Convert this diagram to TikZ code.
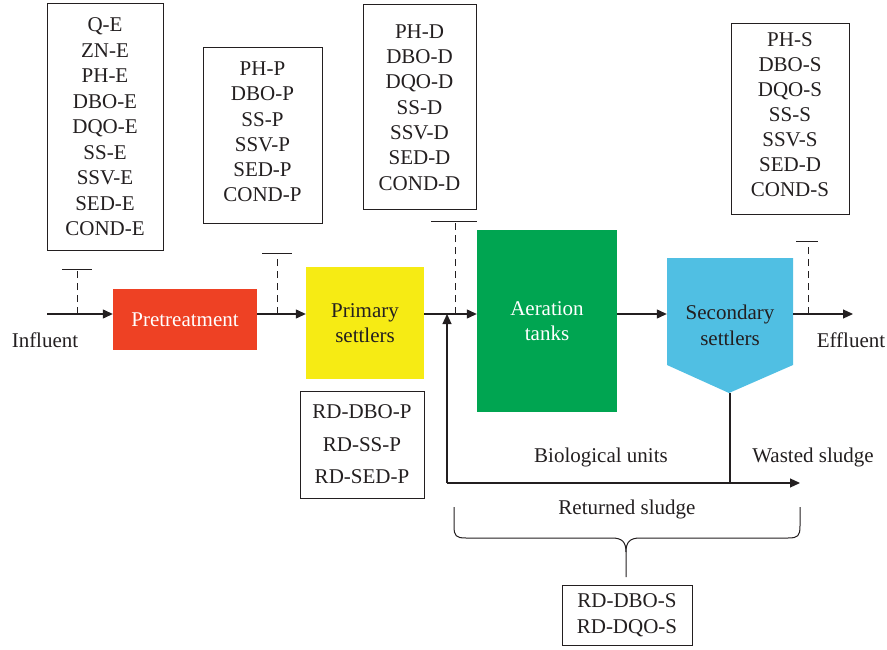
\documentclass[tikz,border=0pt]{standalone}
\usepackage{fontspec}
\setmainfont{Liberation Serif}
\usetikzlibrary{arrows.meta}

\definecolor{linecol}{HTML}{231F20}
\definecolor{pretred}{HTML}{EE4124}
\definecolor{primyel}{HTML}{F6EB14}
\definecolor{aergreen}{HTML}{00A551}
\definecolor{secblue}{HTML}{50BFE3}

\tikzset{
  every node/.style={font=\fontsize{21}{25.5}\selectfont, text=linecol},
  flow/.style={draw=linecol, line width=1.2pt},
  >={Triangle[length=10pt,width=9pt]},
  listbox/.style={draw=linecol, line width=1pt, align=center, inner sep=0pt},
  unit/.style={align=center, inner sep=0pt},
  probe/.style={draw=linecol, line width=1pt, dash pattern=on 7pt off 5pt},
}

\begin{document}
\begin{tikzpicture}[x=1pt,y=-1pt]
\useasboundingbox (0,0) rectangle (887,650);

% measured parameters
\node[listbox, minimum width=116, minimum height=246] (LE) at (105,127) {Q-E\\ZN-E\\PH-E\\DBO-E\\DQO-E\\SS-E\\SSV-E\\SED-E\\COND-E};
\node[listbox, minimum width=119, minimum height=176, font=\fontsize{21}{25.2}\selectfont] (LP) at (262.5,136) {PH-P\\DBO-P\\SS-P\\SSV-P\\SED-P\\COND-P\\[-17pt]};
\node[listbox, minimum width=113, minimum height=205, font=\fontsize{21}{25.3}\selectfont] (LD) at (419.5,107.5) {PH-D\\DBO-D\\DQO-D\\SS-D\\SSV-D\\SED-D\\COND-D};
\node[listbox, minimum width=118, minimum height=191, font=\fontsize{21}{25}\selectfont] (LS) at (790,119.5) {PH-S\\DBO-S\\DQO-S\\SS-S\\SSV-S\\SED-D\\COND-S\\[-16pt]};

% treatment units
\node[unit, fill=pretred, text=white, minimum width=144, minimum height=61] (Pre) at (185,319.5) {Pretreatment};
\node[unit, fill=primyel, minimum width=118, minimum height=112] (Prim) at (365,323) {Primary\\settlers};
\node[unit, fill=aergreen, text=white, minimum width=140, minimum height=182] (Aer) at (547,321) {Aeration\\tanks};
\fill[secblue] (667,258) -- (793,258) -- (793,365) -- (729,393) -- (667,365) -- cycle;
\node[unit, minimum width=126, minimum height=135] (Sec) at (730,325.5) {Secondary\\settlers};

\node (In) at (45,340) {Influent};
\node (Eff) at (851,340) {Effluent};
\node (Bio) at (601,457) {Biological units};
\node (Was) at (813,457) {Wasted sludge};
\node (Ret) at (627,509) {Returned sludge};

% removal
\node[listbox, minimum width=124, minimum height=107, font=\fontsize{21}{32.5}\selectfont] (RP) at (362,444.5) {RD-DBO-P\\RD-SS-P\\RD-SED-P};
\node[listbox, minimum width=130, minimum height=60, font=\fontsize{21}{26}\selectfont] (RS) at (627,615) {RD-DBO-S\\RD-DQO-S};

% main line
\coordinate (start) at (47,314);
\coordinate (end) at (853,314);
\draw[flow,->] (start) -- (start -| Pre.west);
\draw[flow,->] (Pre.east |- start) -- (Prim.west |- start);
\draw[flow,->] (Prim.east |- start) -- (Aer.west |- start);
\draw[flow,->] (Aer.east |- start) -- (Sec.west |- start);
\draw[flow,->] (Sec.east |- start) -- (end);

% sludge
\coordinate (ret) at (447,483);
\coordinate (waste) at (800,483);
\draw[flow] (Sec.south) -- (Sec.south |- ret);
\draw[flow,->] (ret) -- (waste);
\draw[flow,->] (ret) -- (ret |- start);

% sampling points
\foreach \x/\top/\l/\r in {77/269/62/92, 277/253/262/292, 455/222/431/477, 808/241/796/818} {
  \draw[probe] (\x,314) -- (\x,\top);
  \draw[flow, line width=1pt] (\l,\top) -- (\r,\top);
}

% brace
\draw[flow, line width=1pt] (454,507) -- (454,526) .. controls (454,536) and (456,538) .. (466,538) -- (612,538) .. controls (622,538) and (626,542) .. (626,552) -- (626,577);
\draw[flow, line width=1pt] (800,507) -- (800,526) .. controls (800,536) and (798,538) .. (788,538) -- (640,538) .. controls (630,538) and (626,542) .. (626,552);

\end{tikzpicture}
\end{document}
